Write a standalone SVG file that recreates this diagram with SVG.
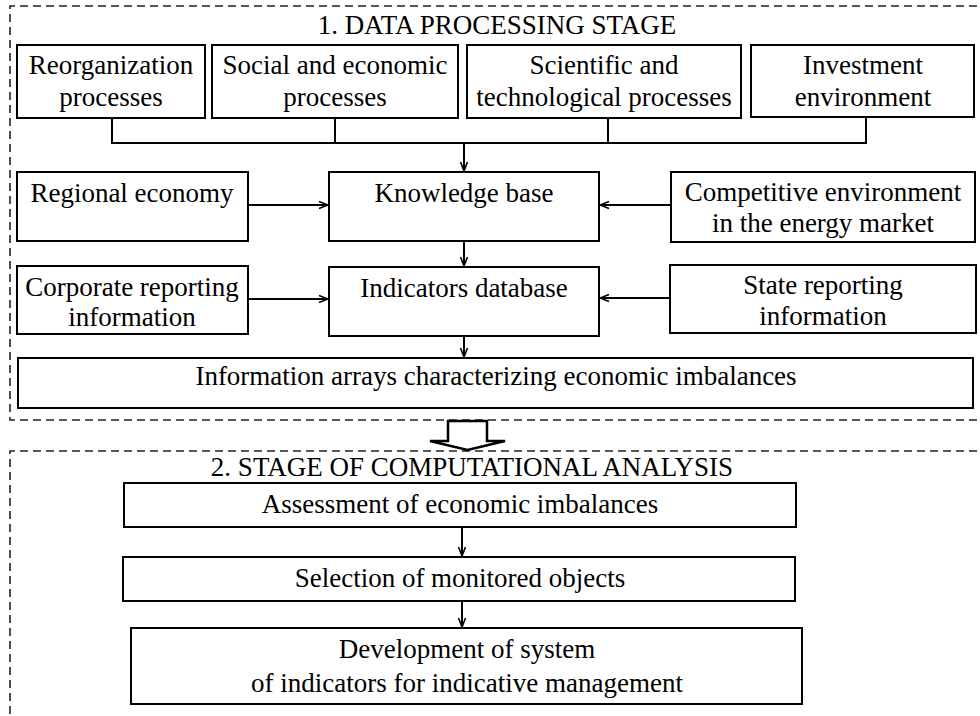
<svg xmlns="http://www.w3.org/2000/svg" width="980" height="716" viewBox="0 0 980 716">
<defs>
<style>
.box{fill:#fff;stroke:#000;stroke-width:2}
.t{font-family:"Liberation Serif","Times New Roman",serif;font-size:27px;fill:#000;text-anchor:middle}
.con{fill:none;stroke:#000;stroke-width:2}
.dash{fill:none;stroke:#222;stroke-width:1.6;stroke-dasharray:8 5}
</style>
<marker id="ah" viewBox="0 0 10 10" refX="10" refY="5" markerWidth="10" markerHeight="10" markerUnits="userSpaceOnUse" orient="auto">
<path d="M1,1.5 L10,5 L1,8.5" fill="none" stroke="#000" stroke-width="1.6"/>
</marker>
</defs>
<rect width="980" height="716" fill="#fff"/>

<g id="stage1">
<path class="dash" d="M990,6 H10 V420 H990"/>
<text class="t" x="497" y="34">1. DATA PROCESSING STAGE</text>
</g>
<g id="stage2">
<path class="dash" d="M990,451 H10 V730"/>
<text class="t" x="472" y="476">2. STAGE OF COMPUTATIONAL ANALYSIS</text>
</g>

<g id="reorg"><rect class="box" x="17" y="45" width="188" height="73"/><text class="t" x="111" y="74">Reorganization</text><text class="t" x="111" y="106">processes</text></g>
<g id="social"><rect class="box" x="212" y="45" width="246" height="73"/><text class="t" x="335" y="74">Social and economic</text><text class="t" x="335" y="106">processes</text></g>
<g id="scientific"><rect class="box" x="467" y="45" width="274" height="73"/><text class="t" x="604" y="74">Scientific and</text><text class="t" x="604" y="106">technological processes</text></g>
<g id="investment"><rect class="box" x="751" y="45" width="223" height="72"/><text class="t" x="863" y="74">Investment</text><text class="t" x="863" y="106">environment</text></g>

<g id="regional"><rect class="box" x="17" y="172" width="231" height="69"/><text class="t" x="132" y="202">Regional economy</text></g>
<g id="knowledge"><rect class="box" x="329" y="172" width="270" height="69"/><text class="t" x="464" y="202">Knowledge base</text></g>
<g id="competitive"><rect class="box" x="671" y="172" width="304" height="70"/><text class="t" x="823" y="201">Competitive environment</text><text class="t" x="823" y="232">in the energy market</text></g>

<g id="corporate"><rect class="box" x="17" y="266" width="231" height="68"/><text class="t" x="132" y="296">Corporate reporting</text><text class="t" x="132" y="326">information</text></g>
<g id="indicators"><rect class="box" x="329" y="267" width="270" height="69"/><text class="t" x="464" y="297">Indicators database</text></g>
<g id="state"><rect class="box" x="670" y="265" width="306" height="68"/><text class="t" x="823" y="294">State reporting</text><text class="t" x="823" y="325">information</text></g>

<g id="arrays"><rect class="box" x="18" y="358" width="955" height="50"/><text class="t" x="496" y="385">Information arrays characterizing economic imbalances</text></g>

<g id="assessment"><rect class="box" x="124" y="483" width="672" height="44"/><text class="t" x="460" y="513">Assessment of economic imbalances</text></g>
<g id="selection"><rect class="box" x="123" y="557" width="672" height="44"/><text class="t" x="460" y="587">Selection of monitored objects</text></g>
<g id="development"><rect class="box" x="131" y="628" width="671" height="76"/><text class="t" x="467" y="658">Development of system</text><text class="t" x="467" y="692">of indicators for indicative management</text></g>

<g id="connectors">
<path class="con" d="M112,118 V143 H866 V117 M335,118 V143 M608,118 V143"/>
<path class="con" d="M464,143 V171" marker-end="url(#ah)"/>
<path class="con" d="M248,205 H328" marker-end="url(#ah)"/>
<path class="con" d="M671,205 H600" marker-end="url(#ah)"/>
<path class="con" d="M464,241 V266" marker-end="url(#ah)"/>
<path class="con" d="M248,299 H328" marker-end="url(#ah)"/>
<path class="con" d="M670,298 H600" marker-end="url(#ah)"/>
<path class="con" d="M464,336 V357" marker-end="url(#ah)"/>
<path class="con" d="M462,527 V556" marker-end="url(#ah)"/>
<path class="con" d="M462,601 V627" marker-end="url(#ah)"/>
<path d="M448,421 H487 V441 H505 L467.5,450 L430,441 H448 Z" fill="#fff" stroke="#000" stroke-width="2.5" stroke-linejoin="miter"/>
</g>
</svg>
